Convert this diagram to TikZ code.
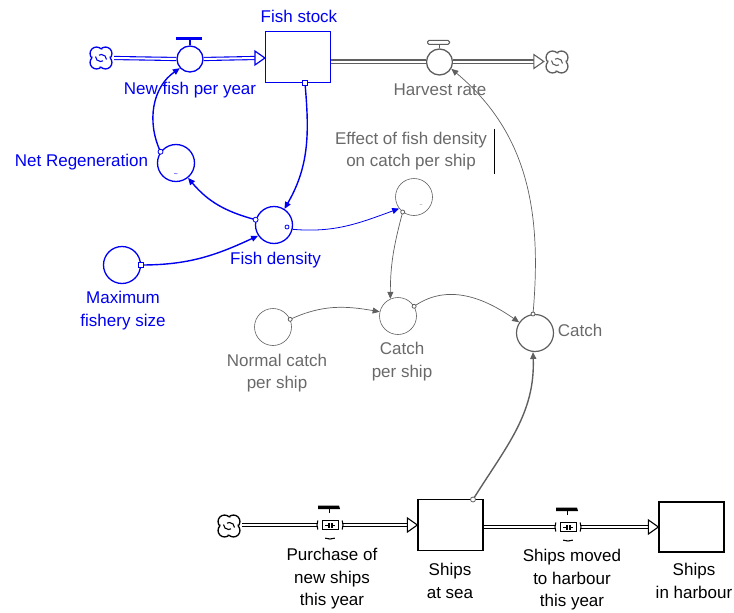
\documentclass[tikz,border=0pt]{standalone}
\usepackage{fontspec}
\setmainfont{Liberation Sans}
\usetikzlibrary{arrows.meta,calc}
\definecolor{vblue}{RGB}{0,0,240}
\definecolor{vgray}{RGB}{95,95,95}
\definecolor{tgray}{RGB}{105,105,105}
\newcommand\bvalve[1]{%
  \draw[line width=1pt,fill=white] ($(#1)+(-8,-4.5)$) rectangle ($(#1)+(8,4.5)$);
  \draw[line width=0.8pt] ($(#1)+(-5,0)$) -- ($(#1)+(5,0)$);
  \fill ($(#1)+(-2.5,-2.5)$) rectangle ($(#1)+(2.5,2.5)$);
  \draw[white,line width=0.5pt] ($(#1)+(0,-2.5)$) -- ($(#1)+(0,2.5)$);
  \draw[line width=1.1pt] ($(#1)+(160:13)$) arc[start angle=160,end angle=200,radius=13];
  \draw[line width=1.1pt] ($(#1)+(20:13)$) arc[start angle=20,end angle=-20,radius=13];
  \draw[line width=1.1pt] ($(#1)+(250:14)$) arc[start angle=250,end angle=290,radius=14];
  \draw[line width=1pt] ($(#1)+(-1,12)$) -- ($(#1)+(-1,16)$);
  \fill ($(#1)+(-12,16)$) -- ($(#1)+(10,16)$) -- ($(#1)+(9,19.5)$) -- ($(#1)+(-12,19.5)$) -- cycle;
}
% #1 name, #2 colour
\newcommand\vcloud[2]{%
  \foreach \a in {45,135,225,315}{\draw[#2, line width=1.3pt, fill=white] ($(#1.center)+(\a:6.3)$) circle[radius=6.5];}
  \fill[white] (#1.center) circle[radius=8.6];
  \draw[#2, line width=1.1pt] ($(#1.center)+(-5.5,1.5)$) arc[start angle=180,end angle=300,radius=5];
  \draw[#2, line width=1.1pt] ($(#1.center)+(5.5,-1.5)$) arc[start angle=0,end angle=120,radius=5];
}
\begin{document}
\begin{tikzpicture}[x=1pt,y=1pt,
  lbl/.style={font=\fontsize{17}{22.5}\selectfont, align=center, inner sep=0pt},
  auxv/.style={circle, draw, minimum size=37pt, inner sep=0pt},
  stockbox/.style={rectangle, draw, minimum width=65pt, minimum height=51pt, inner sep=0pt, line width=1.2pt},
  valvec/.style={circle, draw, minimum size=26pt, inner sep=0pt, line width=1.3pt},
  cloudn/.style={circle, minimum size=26pt, inner sep=0pt},
  pipe/.style={double, double distance=2pt, line width=1.1pt},
  lnk/.style={-{Triangle[length=7pt,width=6pt]}},
  mk/.style={circle, draw, fill=white, minimum size=5pt, inner sep=0pt, line width=0.8pt},
  mks/.style={rectangle, draw, fill=white, minimum size=5pt, inner sep=0pt, line width=0.8pt}
]
\useasboundingbox (0,0) rectangle (734,-613);

% ---------------- top flow (fish) ----------------
\node[cloudn] (c1) at (101,-58) {};
\node[valvec, draw=vblue] (v1) at (190,-59) {};
\draw[vblue, line width=1.2pt] (v1.north) -- ++(0,5);
\draw[vblue, line width=3.2pt] ($(v1.north)+(-14,6.5)$) -- ++(26,0);
\node[stockbox, draw=vblue] (fs) at (298,-57) {};
\node[lbl, text=vblue] (fsl) at (299,-16) {Fish stock};
\draw[pipe, vblue] (c1.east |- 0,-58) -- (v1.west);
\draw[pipe, vblue] (v1.east) -- ($(fs.west |- 0,-58)+(-10,0)$);
\draw[vblue, line width=1.2pt, fill=white] (fs.west |- 0,-58) -- ++(-10,7) -- ++(0,-14) -- cycle;
\vcloud{c1}{vblue}
\node[lbl, text=vblue] (v1l) at (190,-90) {New fish per year};

% harvest
\node[valvec, draw=vgray] (v2) at (439.5,-62) {};
\draw[vgray, line width=1.1pt] (v2.north) -- ++(0,4);
\draw[vgray, line width=1pt, fill=white, rounded corners=1.5pt] ($(v2.north)+(-12,4)$) rectangle ($(v2.north)+(10,8)$);
\node[cloudn] (c2) at (557,-62) {};
\draw[pipe, vgray] (fs.east |- 0,-61.5) -- (v2.west |- 0,-61.5);
\draw[pipe, vgray] (v2.east |- 0,-61.5) -- ($(c2.west |- 0,-61.5)+(-10,0)$);
\draw[vgray, line width=1.1pt, fill=white] (c2.west |- 0,-61.5) -- ++(-10,7) -- ++(0,-14) -- cycle;
\vcloud{c2}{vgray}
\node[lbl, text=tgray] (v2l) at (440,-90) {Harvest rate};

% ---------------- blue auxiliaries ----------------
\node[auxv, draw=vblue, line width=1.3pt] (nr) at (176,-163) {};
\node[text=vblue, font=\scriptsize, inner sep=0pt] at (176,-175) {\textasciitilde};
\node[lbl, text=vblue] (nrl) at (81.5,-162) {Net Regeneration};
\node[auxv, draw=vblue, line width=1.3pt] (fd) at (274,-225) {};
\node[lbl, text=vblue] (fdl) at (275.5,-260) {Fish density};
\node[auxv, draw=vblue, line width=1.3pt] (mf) at (122,-265) {};
\node[lbl, text=vblue] (mfl) at (123,-310.5) {Maximum\\fishery size};

% ---------------- gray auxiliaries ----------------
\node[auxv, draw=vgray, line width=0.6pt] (ef) at (414,-197) {};
\node[text=vgray, font=\tiny, inner sep=0pt] at (421,-206) {\textasciitilde};
\node[lbl, text=tgray] (efl) at (411,-151) {Effect of fish density\\on catch per ship};
\draw[black, line width=0.8pt] (494,-129) -- (494,-174);
\node[auxv, draw=vgray, line width=0.6pt] (nc) at (273,-327) {};
\node[lbl, text=tgray] (ncl) at (277,-373) {Normal catch\\per ship};
\node[auxv, draw=vgray, line width=0.6pt] (cs) at (398,-316) {};
\node[lbl, text=tgray] (csl) at (402,-361.5) {Catch\\per ship};
\node[auxv, draw=vgray, line width=1.2pt] (ca) at (535,-333) {};
\node[lbl, text=tgray] (cal) at (580,-330) {Catch};

% ---------------- bottom flow (ships) ----------------
\node[cloudn] (c3) at (229,-526) {};
\coordinate (v3) at (330,-525);
\node[stockbox, draw=black] (sea) at (450.5,-525) {};
\coordinate (v4) at (568,-527);
\node[stockbox, draw=black, minimum height=50pt] (hb) at (691.5,-527) {};
\draw[pipe, black] (c3.east |- 0,-525) -- ($(v3)+(-13,0)$);
\draw[pipe, black] ($(v3)+(13,0)$) -- ($(sea.west |- 0,-525)+(-10,0)$);
\draw[black, line width=1.1pt, fill=white] (sea.west |- 0,-525) -- ++(-10,7) -- ++(0,-14) -- cycle;
\draw[pipe, black] (sea.east |- 0,-527) -- ($(v4)+(-13,0)$);
\draw[pipe, black] ($(v4)+(13,0)$) -- ($(hb.west |- 0,-527)+(-10,0)$);
\draw[black, line width=1.1pt, fill=white] (hb.west |- 0,-527) -- ++(-10,7) -- ++(0,-14) -- cycle;
\vcloud{c3}{black}
\bvalve{v3}
\bvalve{v4}
\node[lbl] (v3l) at (332,-579) {Purchase of\\new ships\\this year};
\node[lbl] (seal) at (450,-581) {Ships\\at sea};
\node[lbl] (v4l) at (572,-580) {Ships moved\\to harbour\\this year};
\node[lbl] (hbl) at (694,-581) {Ships\\in harbour};

% ---------------- connectors ----------------
\draw[vblue, line width=1.4pt, lnk] (nr.144) to[out=115, in=215] (v1.222);
\node[mk, draw=vblue] at (nr.144) {};
\draw[vblue, line width=1.4pt, lnk] (fs.-75) to[out=-85, in=60] (fd.57);
\node[mks, draw=vblue] at (fs.-75) {};
\draw[vblue, line width=1.4pt, lnk] (fd.164) to[out=165, in=-50] (nr.-51);
\node[mk, draw=vblue] at (fd.164) {};
\draw[vblue, line width=1.4pt, lnk] (mf.0) to[out=0, in=205] (fd.214);
\node[mks, draw=vblue] at (mf.0) {};
\draw[vblue, line width=0.8pt, lnk] (fd.-13) to[out=-5, in=200] (ef.218);
\node[mk, draw=vblue, minimum size=4pt] at ($(fd.center)+(13,-2)$) {};
\draw[vgray, line width=0.7pt, lnk] (ef.233) to[out=-105, in=90] (cs.114);
\node[mk, draw=vgray, minimum size=4pt] at (ef.233) {};
\draw[vgray, line width=0.7pt, lnk] (nc.24) to[out=25, in=170] (cs.167);
\node[mk, draw=vgray, minimum size=4pt] at (nc.24) {};
\draw[vgray, line width=0.7pt, lnk] (cs.31) to[out=35, in=145] (ca.146);
\node[mk, draw=vgray, minimum size=4pt] at (cs.31) {};
\draw[vgray, line width=0.7pt, lnk] (ca.96) to[out=85, in=-40] (v2.-30);
\node[mk, draw=vgray, minimum size=4pt] at (ca.96) {};
\coordinate (seaout) at (473,-499.5);
\draw[vgray, line width=1.4pt, lnk] (seaout) to[out=58, in=-88] (ca.264);
\node[mk, draw=vgray] at (seaout) {};
\end{tikzpicture}
\end{document}
